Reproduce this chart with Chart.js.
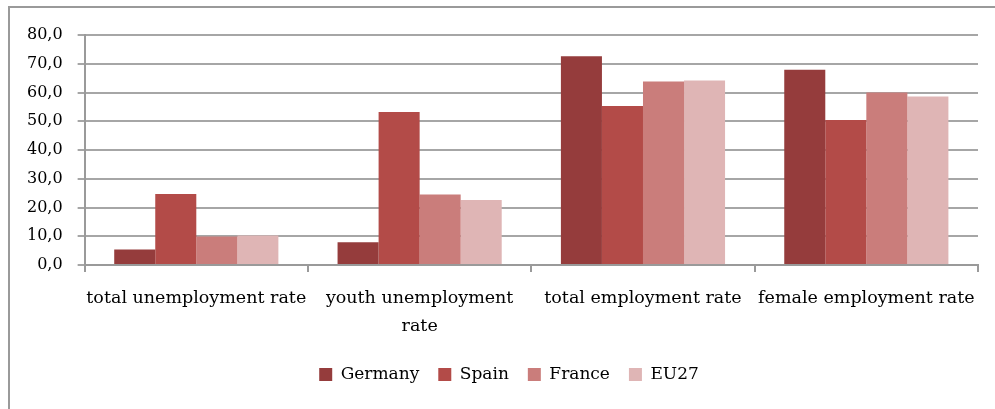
<!DOCTYPE html>
<html>
<head>
<meta charset="utf-8">
<script src="https://cdn.jsdelivr.net/npm/chart.js@4/dist/chart.umd.min.js"></script>
<style>
  html, body { margin: 0; padding: 0; background: #fff; overflow: hidden; }
  #frame {
    position: absolute; left: 8px; top: 6px; width: 1000px; height: 420px;
    border-left: 2px solid #9a9a9a; border-top: 2px solid #9a9a9a;
  }
  #wrap { position: absolute; left: 0; top: 0; width: 995px; height: 409px; }
</style>
</head>
<body>
<div id="frame"></div>
<div id="wrap"><canvas id="chart" width="995" height="409"></canvas></div>
<script>
const categories = [
  "total unemployment rate",
  ["youth unemployment", "rate"],
  "total employment rate",
  "female employment rate"
];
const germany = [5.4, 7.9, 72.6, 67.9];
const spain   = [24.7, 53.2, 55.3, 50.4];
const france  = [9.9, 24.5, 63.8, 60.0];
const eu27    = [10.3, 22.6, 64.2, 58.6];

const seriesNames = ["Germany", "Spain", "France", "EU27"];
const seriesColors = ["#953c3c", "#b34b48", "#ca7d7b", "#dfb5b5"];
const allSeries = [germany, spain, france, eu27];

const serif = "'DejaVu Serif', 'Liberation Serif', serif";

// nudge the legend a bit right, like in the original
const legendShift = {
  id: "legendShift",
  afterLayout(chart) {
    chart.legend.left += 14;
    chart.legend.right += 14;
  }
};

new Chart(document.getElementById("chart"), {
  type: "bar",
  data: {
    labels: categories,
    datasets: allSeries.map((vals, i) => ({
      label: seriesNames[i],
      data: vals,
      backgroundColor: seriesColors[i],
      borderWidth: 0,
      categoryPercentage: 0.735,
      barPercentage: 1.0
    }))
  },
  plugins: [legendShift],
  options: {
    responsive: false,
    animation: false,
    layout: { padding: { left: 12, right: 17, top: 35, bottom: 16 } },
    plugins: {
      tooltip: { enabled: false },
      legend: {
        position: "bottom",
        labels: {
          boxWidth: 13,
          boxHeight: 13,
          padding: 19,
          color: "#000",
          font: { family: serif, size: 17 }
        }
      }
    },
    scales: {
      x: {
        afterFit: scale => { scale.height -= 5; },
        grid: {
          offset: true,
          drawOnChartArea: false,
          tickLength: 7,
          color: "#9a9a9a",
          lineWidth: 2
        },
        border: { color: "#9a9a9a", width: 2 },
        ticks: {
          color: "#000",
          maxRotation: 0,
          autoSkip: false,
          padding: 12,
          font: { family: serif, size: 17.5, lineHeight: 1.6 }
        }
      },
      y: {
        min: 0,
        max: 80,
        grid: { color: "#a6a6a6", lineWidth: 2, tickLength: 7 },
        border: { color: "#9a9a9a", width: 2 },
        ticks: {
          stepSize: 10,
          color: "#000",
          padding: 15,
          font: { family: serif, size: 16 },
          callback: v => v.toFixed(1).replace(".", ",")
        }
      }
    }
  }
});
</script>
</body>
</html>
